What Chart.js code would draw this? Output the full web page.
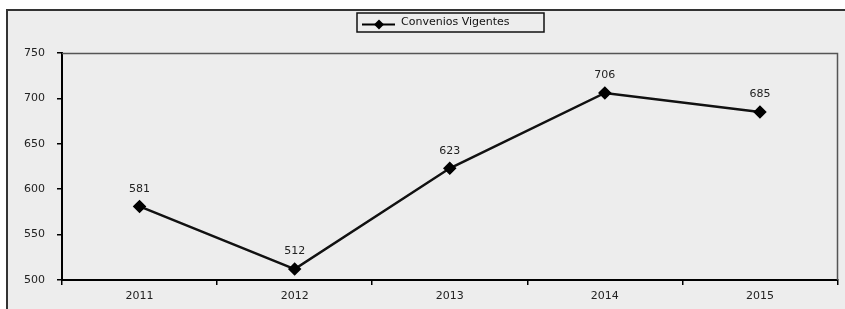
<!DOCTYPE html>
<html>
<head>
<meta charset="utf-8">
<script src="https://cdn.jsdelivr.net/npm/chart.js@4"></script>
<style>
  html, body { margin: 0; padding: 0; background: #ffffff; overflow: hidden; }
  #wrap { width: 845px; height: 309px; position: relative; }
  canvas { display: block; }
</style>
</head>
<body>
<div id="wrap"><canvas id="myChart" width="845" height="309"></canvas></div>
<script>
// Chart data
const years = ["2011", "2012", "2013", "2014", "2015"];
const convenios = [581, 512, 623, 706, 685];
const seriesName = "Convenios Vigentes";
const yTicks = [500, 550, 600, 650, 700, 750];

const FONT = "'DejaVu Sans', Verdana, sans-serif";
const PLOT_RIGHT = 843;

// right edge of the last category band on the x scale
function bandRight(chart) {
  const xs = chart.scales.x;
  const n = years.length;
  const last = xs.getPixelForValue(n - 1);
  const prev = xs.getPixelForValue(n - 2);
  return last + (last - prev) / 2;
}

// Frame, background, plot border, legend box and value labels
const decor = {
  id: "decor",
  beforeDraw(chart) {
    const c = chart.ctx;
    c.save();
    c.fillStyle = "#ffffff";
    c.fillRect(0, 0, 845, 309);
    c.fillStyle = "#ededed";
    c.fillRect(7, 10, 900, 400);
    c.strokeStyle = "#333333";
    c.lineWidth = 2;
    c.strokeRect(7, 10, 900, 400);
    c.restore();
  },
  afterDatasetsDraw(chart) {
    const c = chart.ctx;
    const a = chart.chartArea;
    const r = Math.round(bandRight(chart));
    c.save();
    // top + right plot border (thin gray)
    c.strokeStyle = "#555555";
    c.lineWidth = 1.5;
    c.beginPath();
    c.moveTo(a.left, a.top + 0.5);
    c.lineTo(r - 0.5, a.top + 0.5);
    c.lineTo(r - 0.5, a.bottom);
    c.stroke();

    // value labels
    c.fillStyle = "#222222";
    c.font = "11px " + FONT;
    c.textAlign = "center";
    c.textBaseline = "bottom";
    const meta = chart.getDatasetMeta(0);
    meta.data.forEach((pt, i) => {
      c.fillText(String(convenios[i]), pt.x, pt.y - 12);
    });

    // legend box
    const lx = 357, ly = 13, lw = 187, lh = 19;
    c.fillStyle = "#ededed";
    c.fillRect(lx, ly, lw, lh);
    c.strokeStyle = "#111111";
    c.lineWidth = 1.5;
    c.strokeRect(lx, ly, lw, lh);
    const my = ly + lh / 2 + 2;
    c.strokeStyle = "#000000";
    c.lineWidth = 2;
    c.beginPath();
    c.moveTo(lx + 5, my);
    c.lineTo(lx + 38, my);
    c.stroke();
    c.fillStyle = "#000000";
    c.beginPath();
    c.moveTo(lx + 22, my - 5);
    c.lineTo(lx + 27, my);
    c.lineTo(lx + 22, my + 5);
    c.lineTo(lx + 17, my);
    c.closePath();
    c.fill();
    c.fillStyle = "#111111";
    c.font = "11px " + FONT;
    c.textAlign = "left";
    c.textBaseline = "middle";
    c.fillText(seriesName, lx + 44, ly + lh / 2);
    c.restore();
  }
};

const ctx = document.querySelector("#myChart").getContext("2d");
const myChart = new Chart(ctx, {
  type: "line",
  data: {
    labels: years,
    datasets: [
      {
        label: seriesName,
        data: convenios,
        borderColor: "#111111",
        borderWidth: 2.5,
        pointStyle: "rectRot",
        pointRadius: 5,
        pointBackgroundColor: "#000000",
        pointBorderColor: "#000000",
        tension: 0,
      },
    ],
  },
  options: {
    responsive: false,
    animation: false,
    devicePixelRatio: 1,
    layout: {
      padding: { top: 53, right: 2, left: 0, bottom: 0 },
    },
    scales: {
      x: {
        offset: true,
        grid: {
          offset: true,
          drawOnChartArea: false,
          drawTicks: true,
          tickLength: 5,
          color: "#000000",
          lineWidth: 1.5,
        },
        border: { color: "#000000", width: 2 },
        ticks: {
          color: "#222222",
          font: { size: 11, family: FONT },
          padding: 5,
          maxRotation: 0,
        },
        afterFit(scale) {
          scale.height = 29;
        },
      },
      y: {
        min: 500,
        max: 750,
        afterBuildTicks(scale) {
          scale.ticks = yTicks.map((v) => ({ value: v }));
        },
        grid: {
          drawOnChartArea: false,
          drawTicks: true,
          tickLength: 5,
          color: "#000000",
          lineWidth: 1.5,
        },
        border: { color: "#000000", width: 2 },
        ticks: {
          color: "#222222",
          font: { size: 11, family: FONT },
          padding: 12,
        },
        afterFit(scale) {
          scale.width = 62;
        },
      },
    },
    plugins: {
      legend: { display: false },
      tooltip: { enabled: false },
    },
  },
  plugins: [decor],
});

// nudge the x scale so its last band ends where the original plot ends
for (let k = 0; k < 3; k++) {
  const diff = PLOT_RIGHT - bandRight(myChart);
  if (Math.abs(diff) < 0.5) break;
  myChart.options.layout.padding.right -= diff;
  myChart.update();
}
</script>
</body>
</html>
